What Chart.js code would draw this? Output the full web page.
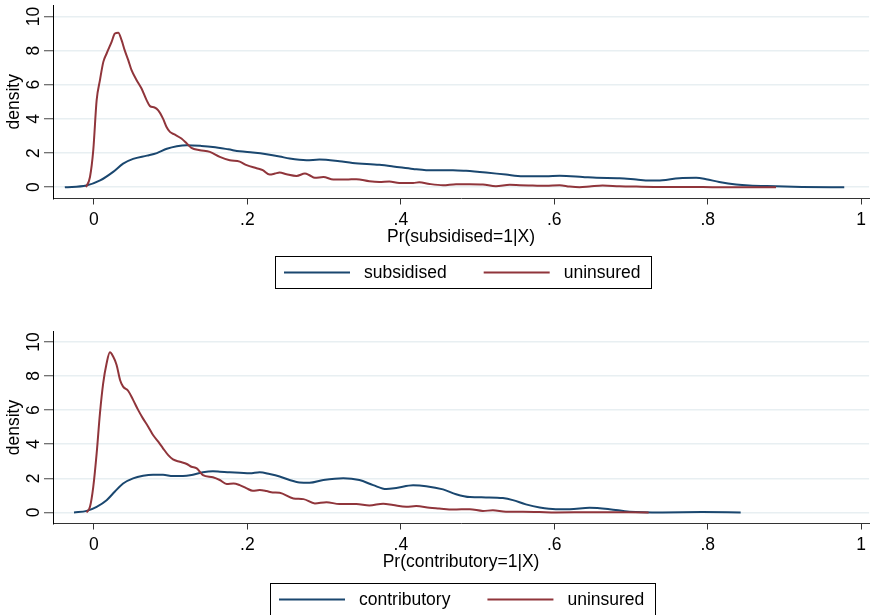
<!DOCTYPE html>
<html><head><meta charset="utf-8">
<script src="https://cdn.jsdelivr.net/npm/chart.js@4/dist/chart.umd.min.js"></script>
<style>
html,body{margin:0;padding:0;background:#fff;width:871px;height:615px;overflow:hidden;}
canvas{position:absolute;left:0;}
#c1{top:0px}
#c2{top:325px}
</style></head><body>
<canvas id="c1" width="871" height="300"></canvas>
<canvas id="c2" width="871" height="290"></canvas>
<script>
// ---- tick labels ----
const xTicks = [0, 0.2, 0.4, 0.6, 0.8, 1];
const xTickLabels = ['0', '.2', '.4', '.6', '.8', '1'];
const yTicks = [0, 2, 4, 6, 8, 10];

// ---- top panel: subsidised vs uninsured ----
const subsX = [-0.038,-0.01,0.008,0.025,0.038,0.051,0.069,0.082,0.095,0.108,0.121,0.14,0.155,0.175,0.19,0.207,0.225,0.242,0.255,0.277,0.294,0.32,0.337,0.372,0.39,0.416,0.433,0.468,0.485,0.511,0.537,0.559,0.589,0.607,0.637,0.655,0.685,0.707,0.724,0.741,0.763,0.785,0.798,0.815,0.837,0.854,0.889,0.923,0.978];
const subsY = [0,0.1,0.4,0.9,1.38,1.66,1.85,2.0,2.25,2.4,2.46,2.42,2.36,2.22,2.1,2.03,1.93,1.8,1.68,1.58,1.62,1.52,1.42,1.31,1.22,1.07,1.0,1.0,0.96,0.86,0.74,0.65,0.64,0.67,0.6,0.55,0.53,0.45,0.39,0.41,0.53,0.55,0.47,0.31,0.16,0.1,0.06,0.02,0];
const unins1X = [-0.0104,-0.0052,-0.0009,0.0035,0.0078,0.0122,0.0165,0.023,0.0273,0.0317,0.036,0.04,0.0447,0.049,0.0556,0.062,0.0686,0.073,0.079,0.0838,0.09,0.0946,0.099,0.105,0.114,0.121,0.127,0.138,0.151,0.164,0.177,0.19,0.199,0.212,0.22,0.229,0.236,0.242,0.251,0.264,0.275,0.281,0.288,0.299,0.312,0.329,0.342,0.359,0.372,0.385,0.398,0.416,0.424,0.4375,0.455,0.472,0.49,0.507,0.524,0.542,0.555,0.572,0.589,0.607,0.62,0.633,0.646,0.663,0.685,0.707,0.741,0.772,0.815,0.889];
const unins1Y = [0,0.6,2.17,5.1,6.27,7.34,7.83,8.51,9.0,9.05,8.61,8.03,7.44,6.85,6.27,5.78,5.1,4.75,4.67,4.5,4.02,3.53,3.24,3.09,2.85,2.56,2.3,2.17,2.07,1.78,1.58,1.5,1.29,1.11,1.0,0.74,0.8,0.86,0.76,0.66,0.8,0.7,0.55,0.6,0.45,0.45,0.47,0.35,0.31,0.33,0.25,0.25,0.29,0.19,0.12,0.18,0.18,0.16,0.06,0.14,0.12,0.1,0.08,0.12,0.04,0.0,0.04,0.1,0.06,0.04,0.02,0.02,0,0];

// ---- bottom panel: contributory vs uninsured ----
const contX = [-0.026,-0.0095,0.0035,0.0165,0.027,0.038,0.051,0.064,0.077,0.09,0.103,0.116,0.129,0.142,0.155,0.164,0.177,0.19,0.203,0.216,0.229,0.242,0.255,0.268,0.281,0.299,0.325,0.346,0.364,0.381,0.394,0.416,0.433,0.455,0.472,0.49,0.511,0.533,0.546,0.563,0.581,0.602,0.62,0.646,0.672,0.698,0.741,0.793,0.843];
const contY = [0,0.09,0.33,0.72,1.21,1.7,2.0,2.15,2.21,2.21,2.13,2.13,2.21,2.35,2.41,2.39,2.35,2.33,2.29,2.35,2.25,2.11,1.9,1.76,1.74,1.9,2.01,1.9,1.6,1.37,1.43,1.59,1.54,1.35,1.07,0.9,0.88,0.84,0.72,0.47,0.29,0.19,0.19,0.27,0.19,0.04,0,0.02,0];
const unins2X = [-0.0095,-0.0052,-0.0009,0.0035,0.0078,0.012,0.0165,0.0208,0.025,0.0295,0.034,0.038,0.0447,0.051,0.0577,0.064,0.0707,0.077,0.0838,0.09,0.0968,0.103,0.112,0.121,0.127,0.134,0.142,0.155,0.164,0.173,0.182,0.19,0.199,0.207,0.216,0.225,0.233,0.242,0.26,0.273,0.288,0.303,0.32,0.342,0.359,0.377,0.39,0.407,0.42,0.4375,0.45,0.468,0.49,0.507,0.52,0.537,0.559,0.581,0.602,0.65,0.723];
const unins2Y = [0,0.33,1.5,3.46,5.81,7.57,8.75,9.39,9.14,8.65,7.77,7.38,7.12,6.6,6.0,5.5,5.03,4.54,4.15,3.76,3.36,3.11,2.97,2.84,2.68,2.58,2.19,2.06,1.9,1.67,1.7,1.6,1.41,1.27,1.31,1.25,1.17,1.15,0.82,0.78,0.53,0.6,0.49,0.49,0.41,0.51,0.43,0.33,0.37,0.27,0.23,0.17,0.19,0.09,0.12,0.04,0.04,0.02,0,0.01,0];

const FONT = "'Liberation Sans', Arial, Helvetica, sans-serif";
const FS = 17.5;
const NAVY = '#1a476f', MAROON = '#90353b';

function pts(xs, ys) { return xs.map((x, i) => ({ x: x, y: ys[i] })); }

const yLabelPlugin = {
  id: 'yLabels',
  afterDraw(chart) {
    const s = chart.scales.y, ctx = chart.ctx;
    ctx.save();
    ctx.font = FS + 'px ' + FONT;
    ctx.fillStyle = '#000';
    ctx.textAlign = 'center';
    ctx.textBaseline = 'middle';
    yTicks.forEach(v => {
      const y = s.getPixelForValue(v);
      ctx.save();
      ctx.translate(34, y);
      ctx.rotate(-Math.PI / 2);
      ctx.fillText(String(v), 0, 0);
      ctx.restore();
    });
    ctx.restore();
  }
};

const boxLegendPlugin = {
  id: 'boxLegend',
  afterDraw(chart, args, opts) {
    const ctx = chart.ctx;
    const ds = chart.data.datasets;
    ctx.save();
    ctx.font = FS + 'px ' + FONT;
    const w0 = ctx.measureText(ds[0].label).width;
    const w1 = ctx.measureText(ds[1].label).width;
    const padL = 8.5, lineW = 66, gap = 14, between = 37, padR = 11;
    const total = padL + lineW + gap + w0 + between + lineW + gap + w1 + padR;
    const cx = (chart.chartArea.left + chart.chartArea.right) / 2 + 1.5;
    const left = Math.round(cx - total / 2) + 0.5;
    const top = Math.round(chart.chartArea.bottom + opts.offset) + 0.5;
    const h = 32;
    ctx.strokeStyle = '#000';
    ctx.lineWidth = 1;
    ctx.strokeRect(left, top, Math.round(total), h);
    const my = top + h / 2;
    let x = left + padL;
    [0, 1].forEach(i => {
      ctx.strokeStyle = ds[i].borderColor;
      ctx.lineWidth = 2;
      ctx.beginPath();
      ctx.moveTo(x, my);
      ctx.lineTo(x + lineW, my);
      ctx.stroke();
      x += lineW + gap;
      ctx.fillStyle = '#000';
      ctx.textAlign = 'left';
      ctx.textBaseline = 'middle';
      ctx.fillText(ds[i].label, x, my + 1);
      x += (i === 0 ? w0 : w1) + between;
    });
    ctx.restore();
  }
};

function makeChart(id, labelA, xsA, ysA, xsB, ysB, xTitle, cfg) {
  const font = { family: FONT, size: FS };
  return new Chart(document.getElementById(id), {
    type: 'line',
    data: {
      datasets: [
        { label: labelA, data: pts(xsA, ysA), borderColor: NAVY, borderWidth: 2, pointRadius: 0, cubicInterpolationMode: 'monotone', fill: false, order: 1 },
        { label: 'uninsured', data: pts(xsB, ysB), borderColor: MAROON, borderWidth: 2, pointRadius: 0, cubicInterpolationMode: 'monotone', fill: false, order: 0 }
      ]
    },
    options: {
      responsive: false,
      animation: false,
      devicePixelRatio: 1,
      layout: { padding: { left: 0, right: 1, top: cfg.padTop, bottom: cfg.padBottom } },
      plugins: { legend: { display: false }, tooltip: { enabled: false }, boxLegend: { offset: cfg.legendOffset } },
      scales: {
        x: {
          type: 'linear', min: -0.0534, max: 1.0104,
          afterBuildTicks(s) { s.ticks = xTicks.map(v => ({ value: v })); },
          afterFit(s) { s.height = 49; },
          grid: { drawOnChartArea: false, drawTicks: true, tickLength: 6, tickColor: '#333', tickWidth: 1 },
          border: { display: true, color: '#333', width: 1 },
          ticks: { font: font, color: '#000', padding: 5, maxRotation: 0, minRotation: 0, autoSkip: false, callback: (v, i) => xTickLabels[i] },
          title: { display: true, text: xTitle, font: font, color: '#000', padding: { top: 0, bottom: 0 } }
        },
        y: {
          type: 'linear', min: cfg.yMin, max: cfg.yMax,
          afterBuildTicks(s) { s.ticks = yTicks.map(v => ({ value: v })); },
          afterFit(s) { s.width = 53; },
          grid: { color: '#e8eff2', lineWidth: 1.5, drawTicks: true, tickLength: 9, tickColor: '#444', tickWidth: 1 },
          border: { display: true, color: '#000', width: 1 },
          ticks: { display: false },
          title: { display: true, text: 'density', font: font, color: '#000', padding: { top: 4, bottom: 0 } }
        }
      }
    },
    plugins: [yLabelPlugin, boxLegendPlugin]
  });
}

makeChart('c1', 'subsidised', subsX, subsY, unins1X, unins1Y, 'Pr(subsidised=1|X)',
  { padTop: 5, padBottom: 52.5, yMin: -0.66, yMax: 10.67, legendOffset: 57.5 });
makeChart('c2', 'contributory', contX, contY, unins2X, unins2Y, 'Pr(contributory=1|X)',
  { padTop: 6.5, padBottom: 42.5, yMin: -0.65, yMax: 10.61, legendOffset: 59.5 });
</script>
</body></html>
